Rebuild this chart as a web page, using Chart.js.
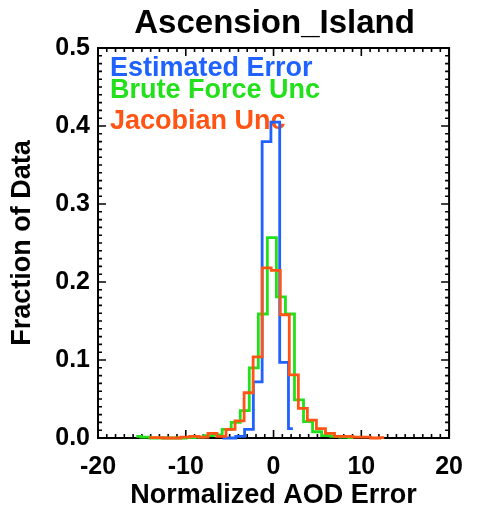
<!DOCTYPE html>
<html>
<head>
<meta charset="utf-8">
<script src="https://cdn.jsdelivr.net/npm/chart.js@4.4.0/dist/chart.umd.min.js"></script>
<style>
  html, body { margin: 0; padding: 0; background: #fff; }
</style>
</head>
<body>
<canvas id="histChart" width="477" height="506"></canvas>
<script>
// histogram bin centres and fractions for each error estimate
const estCenters = [-5.8, -4.8, -3.8, -2.8, -1.8, -0.8, 0.2, 1.2, 2.2];
const estValues = [0, 0, 0.002, 0.011, 0.072, 0.38, 0.405, 0.097, 0.012];

const bruteCenters = [-15.64, -14.61, -13.58, -12.55, -11.52, -10.49, -9.46, -8.43, -7.40,
  -6.37, -5.34, -4.31, -3.28, -2.25, -1.22, -0.19, 0.84, 1.87, 2.90, 3.93, 4.96, 5.99,
  7.02, 8.05, 9.08];
const bruteValues = [0.002, 0.001, 0, 0, 0, 0, 0.0005, 0.001, 0.003, 0.004, 0.011, 0.02,
  0.035, 0.09, 0.159, 0.257, 0.181, 0.159, 0.049, 0.021, 0.008, 0.003, 0.002, 0.001, 0.0005];

const jacCenters = [-14.17, -13.14, -12.11, -11.08, -10.05, -9.02, -7.99, -6.96, -5.93,
  -4.90, -3.87, -2.84, -1.81, -0.78, 0.25, 1.28, 2.31, 3.34, 4.37, 5.40, 6.43, 7.46, 8.49,
  9.52, 10.55, 11.58, 12.61];
const jacValues = [0.0005, 0.0005, 0, 0, 0.001, 0.002, 0.001, 0.006, 0.002, 0.011, 0.022,
  0.058, 0.104, 0.218, 0.215, 0.158, 0.081, 0.038, 0.023, 0.012, 0.006, 0.002, 0.002,
  0.001, 0.001, 0, 0.0005];

const xTicks = [-20, -10, 0, 10, 20];
const yTicks = [0.0, 0.1, 0.2, 0.3, 0.4, 0.5];

const BLUE = '#1f62ff';
const GREEN = '#22e01a';
const ORANGE = '#ff5414';
const FONT = "'Liberation Sans', Arial, Helvetica, sans-serif";

function pts(xs, ys) {
  return xs.map((x, i) => ({ x: x, y: ys[i] }));
}

// box, inward IDL-style ticks, title and coloured legend text
const framePlugin = {
  id: 'frame',
  beforeDatasetsDraw(chart) {
    const { ctx, chartArea: a, scales: { x, y } } = chart;
    ctx.save();
    ctx.strokeStyle = '#000';
    ctx.lineWidth = 2;
    ctx.strokeRect(a.left, a.top, a.right - a.left, a.bottom - a.top);

    ctx.lineWidth = 1.6;
    ctx.beginPath();
    for (let v = -20; v <= 20; v++) {
      const px = x.getPixelForValue(v);
      const len = v % 10 === 0 ? 8 : 4;
      ctx.moveTo(px, a.bottom); ctx.lineTo(px, a.bottom - len);
      ctx.moveTo(px, a.top); ctx.lineTo(px, a.top + len);
    }
    for (let i = 0; i <= 50; i++) {
      const py = y.getPixelForValue(i / 100);
      const len = i % 10 === 0 ? 8 : 4;
      ctx.moveTo(a.left, py); ctx.lineTo(a.left + len, py);
      ctx.moveTo(a.right, py); ctx.lineTo(a.right - len, py);
    }
    ctx.stroke();

    ctx.textAlign = 'center';
    ctx.textBaseline = 'alphabetic';
    ctx.fillStyle = '#000';
    ctx.font = 'bold 33px ' + FONT;
    ctx.fillText('Ascension_Island', (a.left + a.right) / 2 + 1, 33);

    ctx.textAlign = 'left';
    ctx.font = 'bold 27px ' + FONT;
    ctx.fillStyle = BLUE;
    ctx.fillText('Estimated Error', 110, 76);
    ctx.fillStyle = GREEN;
    ctx.fillText('Brute Force Unc', 110, 98);
    ctx.fillStyle = ORANGE;
    ctx.fillText('Jacobian Unc', 110, 129);
    ctx.restore();
  }
};

const lineStyle = {
  stepped: 'middle',
  borderWidth: 2.8,
  pointRadius: 0,
  fill: false,
  clip: 4
};

const ctx = document.getElementById('histChart').getContext('2d');
const histChart = new Chart(ctx, {
  type: 'line',
  data: {
    datasets: [
      { label: 'Estimated Error', data: pts(estCenters, estValues), borderColor: BLUE, order: 2, ...lineStyle },
      { label: 'Brute Force Unc', data: pts(bruteCenters, bruteValues), borderColor: GREEN, order: 1, ...lineStyle },
      { label: 'Jacobian Unc', data: pts(jacCenters, jacValues), borderColor: ORANGE, order: 0, ...lineStyle }
    ]
  },
  options: {
    responsive: false,
    animation: false,
    devicePixelRatio: 1,
    layout: { padding: { top: 48, right: 18, left: 0, bottom: 0 } },
    plugins: {
      legend: { display: false },
      tooltip: { enabled: false },
      title: { display: false }
    },
    scales: {
      x: {
        type: 'linear',
        min: -20,
        max: 20,
        afterFit: (s) => { s.height = 68; },
        afterBuildTicks: (s) => { s.ticks = xTicks.map(v => ({ value: v })); },
        ticks: {
          color: '#000',
          padding: 14,
          maxRotation: 0,
          autoSkip: false,
          font: { family: FONT, size: 25, weight: 'bold' }
        },
        grid: { display: false, drawTicks: false },
        border: { display: false },
        title: {
          display: true,
          text: 'Normalized AOD Error',
          color: '#000',
          padding: { top: 0, bottom: 0 },
          font: { family: FONT, size: 27, weight: 'bold', lineHeight: 0.8 }
        }
      },
      y: {
        min: 0,
        max: 0.5,
        afterFit: (s) => { s.width = 98; },
        afterBuildTicks: (s) => { s.ticks = yTicks.map(v => ({ value: v })); },
        ticks: {
          color: '#000',
          padding: 8,
          callback: (v) => v.toFixed(1),
          font: { family: FONT, size: 25, weight: 'bold' }
        },
        grid: { display: false, drawTicks: false },
        border: { display: false },
        title: {
          display: true,
          text: 'Fraction of Data',
          color: '#000',
          padding: { top: 9, bottom: 0 },
          font: { family: FONT, size: 27, weight: 'bold', lineHeight: 1 }
        }
      }
    }
  },
  plugins: [framePlugin]
});
</script>
</body>
</html>
